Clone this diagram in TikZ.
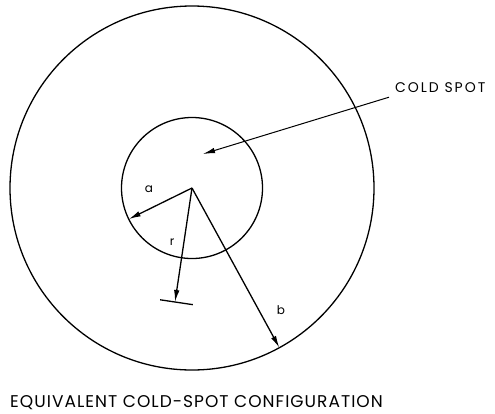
\documentclass[tikz,border=0pt]{standalone}
\usepackage{fontspec}
\setmainfont{Poppins}
\newfontfamily\widefont[LetterSpace=6]{Poppins}
\newfontfamily\coldfont[LetterSpace=14]{Poppins}
\usetikzlibrary{positioning,arrows.meta,calc}

\begin{document}
\begin{tikzpicture}[
    x=1pt, y=-1pt,
    ring/.style={line width=1.3pt},
    arrow/.style={-{Latex[length=12pt,width=5.5pt]}, line width=1.3pt},
    lbl/.style={inner sep=0pt, font=\fontsize{12}{13}\selectfont},
    caption/.style={inner sep=0pt, anchor=west, font=\widefont\fontsize{17}{19}\selectfont}
]
\useasboundingbox (0,0) rectangle (495,413);
\coordinate (o) at (192,188);
\draw[ring] (o) circle[radius=182pt];
\draw[ring] (o) circle[radius=70.5pt];
% radii a, r, b
\coordinate (aEnd) at ($(o)!70.5pt!(129,219)$);
\coordinate (bEnd) at ($(o)!182pt!(279,347)$);
\coordinate (rEnd) at (175,302);
\draw[arrow] (o) -- (aEnd);
\draw[arrow] (o) -- (rEnd);
\draw[arrow] (o) -- (bEnd);
\draw[ring] ($(rEnd)!15pt!90:(o)$) -- ($(rEnd)!18pt!-90:(o)$);
\node[lbl] (a) at (149,189) {a};
\node[lbl] (r) at (172,242) {r};
\node[lbl] (b) at (281,310) {b};
% cold spot pointer
\node[caption, font=\coldfont\fontsize{14}{16}\selectfont] (cold) at (395,88) {COLD SPOT};
\coordinate (spot) at (203,154);
\draw[arrow, line width=1pt] ([shift={(-6pt,-4pt)}]cold.south west) -- (spot);
\node[caption] (title) at (10,403) {EQUIVALENT COLD-SPOT CONFIGURATION};
\end{tikzpicture}
\end{document}
